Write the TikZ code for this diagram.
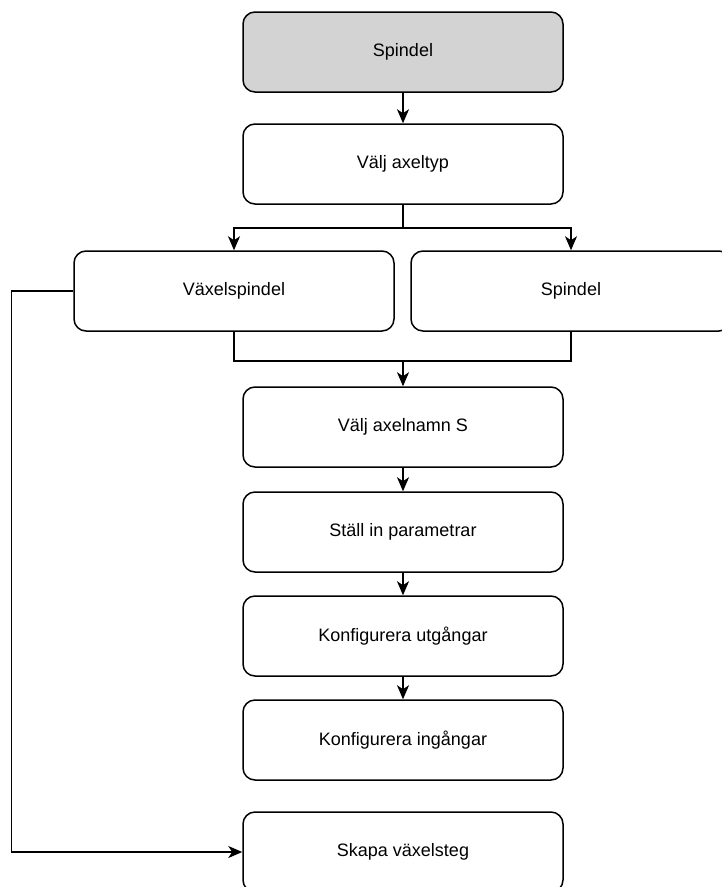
\documentclass[tikz,border=0pt]{standalone}
\usepackage{fontspec}
\setmainfont{Liberation Sans}
\usetikzlibrary{arrows.meta}
\definecolor{spgray}{RGB}{211,211,211}
\begin{document}
\begin{tikzpicture}[x=1pt,y=-1pt,
  box/.style={draw,rounded corners=12pt,minimum width=320pt,minimum height=80pt,
    inner sep=0pt,line width=1.5pt,font=\fontsize{18}{21}\selectfont},
  arr/.style={line width=1.5pt,-{Stealth[length=14pt,width=12pt,inset=4pt]}},
  line/.style={line width=1.5pt}]
\useasboundingbox (0,0) rectangle (722,887);

\node[box,fill=spgray] (spindel) at (403,52) {Spindel};
\node[box] (axeltyp) at (403,164) {Välj axeltyp};
\node[box] (vaxel) at (234,291) {Växelspindel};
\node[box] (spindel2) at (571,291) {Spindel};
\node[box] (axelnamn) at (403,427) {Välj axelnamn S};
\node[box] (param) at (403,532) {Ställ in parametrar};
\node[box] (utg) at (403,636) {Konfigurera utgångar};
\node[box] (ing) at (403,740) {Konfigurera ingångar};
\node[box] (skapa) at (403,852) {Skapa växelsteg};

\coordinate (split) at (403,228);
\coordinate (merge) at (403,361);

\draw[arr] (spindel) -- (axeltyp);
\draw[line] (axeltyp) -- (split);
\draw[arr] (split) -| (vaxel);
\draw[arr] (split) -| (spindel2);
\draw[line] (vaxel) |- (merge) -| (spindel2);
\draw[arr] (merge) -- (axelnamn);
\draw[arr] (axelnamn) -- (param);
\draw[arr] (param) -- (utg);
\draw[arr] (utg) -- (ing);
\draw[arr] (vaxel.west) -- ++(-62,0) |- (skapa.west);
\end{tikzpicture}
\end{document}
